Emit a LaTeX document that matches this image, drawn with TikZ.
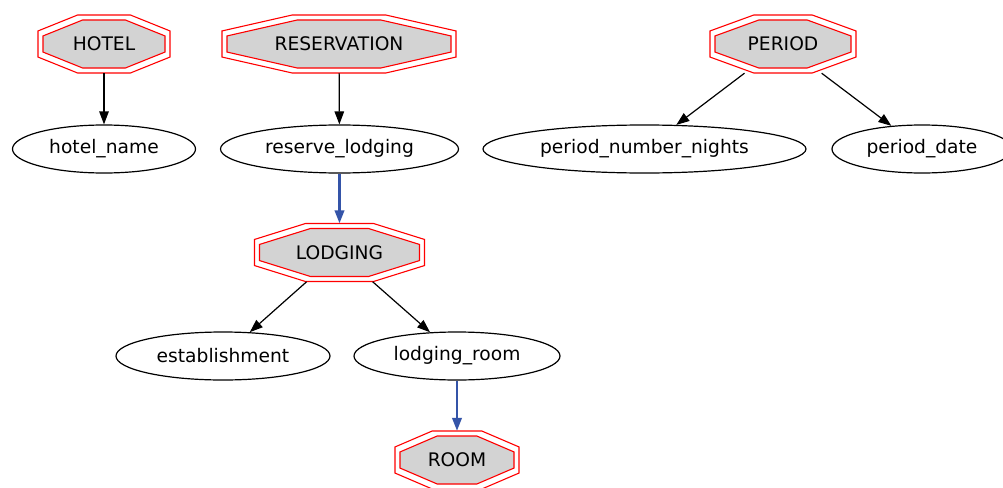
\documentclass[tikz,border=0pt]{standalone}
\usepackage{fontspec}
\setmainfont{DejaVu Sans}
\usetikzlibrary{shapes.geometric,arrows.meta}
\definecolor{octfill}{HTML}{D3D3D3}
\definecolor{edgeblue}{HTML}{3454A8}
\tikzset{
  octline/.style={draw=red, line width=1.1pt},
  octtext/.style={draw=none, inner sep=0pt, font=\fontsize{18.67}{22}\selectfont},
  attr/.style={ellipse, draw=black, line width=1.2pt, minimum height=48, inner sep=0pt, font=\fontsize{18.67}{22}\selectfont},
  conn/.style={-{Triangle[length=13pt,width=9.5pt]}, line width=1.2pt, draw=black},
  blueconn/.style={conn, draw=edgeblue, line width=2.4pt},
}
\newcommand\dbloct[6]{%
  \pgfmathsetmacro\octA{0.6*#4}%
  \pgfmathsetmacro\octB{0.55*#5}%
  \pgfmathsetmacro\octW{#4-5}%
  \pgfmathsetmacro\octH{#5-5}%
  \draw[octline] (#2-#4+\octA,#3-#5) -- (#2+#4-\octA,#3-#5) -- (#2+#4,#3-#5+\octB) -- (#2+#4,#3+#5-\octB) -- (#2+#4-\octA,#3+#5) -- (#2-#4+\octA,#3+#5) -- (#2-#4,#3+#5-\octB) -- (#2-#4,#3-#5+\octB) -- cycle;
  \filldraw[octline, fill=octfill] (#2-\octW+\octA,#3-\octH) -- (#2+\octW-\octA,#3-\octH) -- (#2+\octW,#3-\octH+\octB) -- (#2+\octW,#3+\octH-\octB) -- (#2+\octW-\octA,#3+\octH) -- (#2-\octW+\octA,#3+\octH) -- (#2-\octW,#3+\octH-\octB) -- (#2-\octW,#3-\octH+\octB) -- cycle;
  \node[octtext, minimum width=2*#4, minimum height=2*#5] (#1) at (#2,#3) {#6};
}
\begin{document}
\begin{tikzpicture}[x=1pt,y=-1pt]
\useasboundingbox[fill=white] (0,0) rectangle (1003,487);
% entity nodes
\dbloct{hotel}{104}{44}{66}{29}{HOTEL}
\dbloct{reservation}{339}{44}{117}{29}{RESERVATION}
\dbloct{period}{783}{44}{73}{29}{PERIOD}
\dbloct{lodging}{339.5}{252.5}{85}{29}{LODGING}
\dbloct{room}{457}{460}{62}{29}{ROOM}
% attribute nodes
\node[attr, minimum width=183] (hotelname) at (104,149) {hotel\_name};
\node[attr, minimum width=238] (reservelodging) at (339.5,149) {reserve\_lodging};
\node[attr, minimum width=323] (pnn) at (644.5,149) {period\_number\_nights};
\node[attr, minimum width=180] (pdate) at (922,149) {period\_date};
\node[attr, minimum width=214] (establishment) at (223,356) {establishment};
\node[attr, minimum width=206] (lodgingroom) at (457,356) {lodging\_room};
% connectors
\draw[conn] (hotel) -- (hotelname);
\draw[conn] (reservation) -- (reservelodging);
\draw[conn] (period) -- (pnn);
\draw[conn] (period) -- (pdate);
\draw[conn] (lodging) -- (establishment);
\draw[conn] (lodging) -- (lodgingroom);
\draw[blueconn] (reservelodging) -- (lodging);
\draw[blueconn] (lodgingroom) -- (room);
\end{tikzpicture}
\end{document}
